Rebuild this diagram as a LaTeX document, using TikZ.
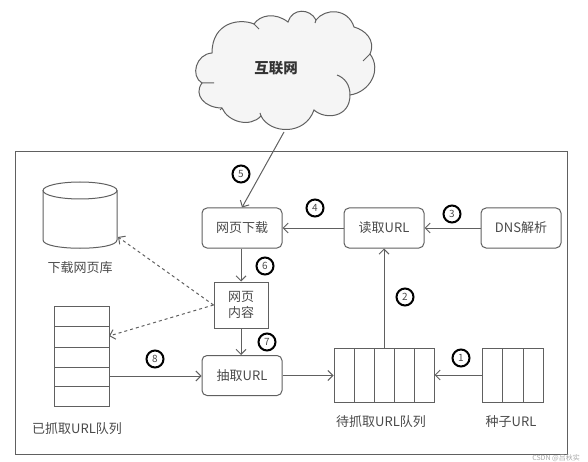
\documentclass[tikz,border=0pt]{standalone}
\usepackage{fontspec}
\setmainfont{Noto Sans CJK SC}
\usetikzlibrary{positioning, arrows.meta}
\definecolor{linegray}{HTML}{606060}
\definecolor{textgray}{HTML}{4A4A4A}

\begin{document}
\begin{tikzpicture}[
  x=1pt, y=-1pt,
  stepbox/.style={rectangle, rounded corners=5pt, draw=linegray, line width=1pt, minimum width=80pt, minimum height=40pt, inner sep=0pt, text=textgray, font=\fontsize{13}{15}\selectfont},
  pagebox/.style={rectangle, draw=linegray, line width=1pt, minimum width=54pt, minimum height=46pt, inner sep=0pt, align=center, text=textgray, font=\fontsize{13}{15.5}\selectfont},
  queuebox/.style={rectangle, draw=linegray, line width=1pt, inner sep=0pt},
  textnode/.style={text=textgray, inner sep=0pt, font=\fontsize{13}{15}\selectfont},
  numnode/.style={circle, draw=black, line width=2pt, minimum size=17pt, inner sep=0pt, text=textgray, font=\fontsize{10}{10}\selectfont},
  conn/.style={->, draw=linegray, line width=1pt},
  dashconn/.style={conn, dashed},
  >={Straight Barb[length=5pt, width=10pt]}
]
  \useasboundingbox (0,0) rectangle (588,462);

  % Wolke
  \draw[draw=linegray, line width=1pt, fill=black!4]
    (212,53) .. controls (196,54) and (190,76) .. (202,83)
    .. controls (193,95) and (205,108) .. (222,108)
    .. controls (228,122) and (250,128) .. (261,116)
    .. controls (270,134) and (305,136) .. (314,110)
    .. controls (325,120) and (350,118) .. (350,95)
    .. controls (370,92) and (382,70) .. (370,54)
    .. controls (376,40) and (365,30) .. (354,27)
    .. controls (348,8) and (325,8) .. (316,20)
    .. controls (310,8) and (292,8) .. (288,22)
    .. controls (275,12) and (260,15) .. (254,24)
    .. controls (240,18) and (212,22) .. (212,53) -- cycle;
  \draw[draw=linegray, line width=1pt]
    (202,83) -- (214,83)
    (222,108) -- (220,110)
    (254,24) -- (259,29)
    (261,116) -- (260,113)
    (316,20) -- (315,23)
    (370,54) -- (363,61)
    (350,95) .. controls (350,85) and (345,78) .. (337,75);
  \node[inner sep=0pt, text=black!80, font=\fontsize{14.5}{15}\selectfont\bfseries] (net) at (276,68) {互联网};
  \coordinate (netfoot) at (284,132);

  % Rahmen
  \draw[draw=linegray, line width=1pt] (15,152) rectangle (567,454);

  % Schritte
  \node[stepbox] (down) at (242,228) {网页下载};
  \node[stepbox] (read) at (384,228) {读取URL};
  \node[stepbox] (dns) at (521,228) {DNS解析};
  \node[pagebox] (page) at (241,305) {网页\\内容};
  \node[stepbox] (extract) at (242,375.5) {抽取URL};

  % Webseiten-Speicher
  \draw[draw=linegray, line width=1pt] (43,190.5) -- (43,240) .. controls (43,251) and (117,251) .. (117,240) -- (117,190.5);
  \draw[draw=linegray, line width=1pt] (80,190.5) ellipse [x radius=37, y radius=8.5];
  \coordinate (storein) at (118,237);
  \node[textnode] (storelabel) at (80,268) {下载网页库};

  % Warteschlangen
  \node[queuebox, minimum width=55pt, minimum height=100pt] (done) at (81.5,356) {};
  \foreach \y in {326,347,367,386}
    \draw[draw=linegray, line width=1pt] (54,\y) -- (109,\y);
  \node[textnode] (donelabel) at (77,429) {已抓取URL队列};
  \coordinate (donein) at (109,336);
  \coordinate (doneout) at (109,376);

  \node[queuebox, minimum width=100pt, minimum height=54pt] (todo) at (384,375) {};
  \foreach \x in {354,374,394,414}
    \draw[draw=linegray, line width=1pt] (\x,348) -- (\x,402);
  \node[textnode] (todolabel) at (381,422) {待抓取URL队列};

  \node[queuebox, minimum width=61pt, minimum height=54pt] (seed) at (512.5,375) {};
  \foreach \x in {502,523}
    \draw[draw=linegray, line width=1pt] (\x,348) -- (\x,402);
  \node[textnode] (seedlabel) at (511,422) {种子URL};

  % Pfeile
  \draw[conn] (seed) -- (todo);
  \draw[conn] (todo) -- (read);
  \draw[conn] (dns) -- (read);
  \draw[conn] (read) -- (down);
  \draw[conn] (netfoot) -- (down.north);
  \draw[conn] (down.south -| page) -- (page);
  \draw[conn] (page) -- (extract.north -| page);
  \draw[conn] (doneout) -- (doneout -| extract.west);
  \draw[conn] (extract.east) -- (extract.east -| todo.west);
  \draw[dashconn] (page.west) -- (storein);
  \draw[dashconn] (page.west) -- (donein);

  % Nummern
  \node[numnode] (n1) at (461,358) {1};
  \node[numnode] (n2) at (405,297) {2};
  \node[numnode] (n3) at (452,214) {3};
  \node[numnode] (n4) at (315,208) {4};
  \node[numnode] (n5) at (241,174) {5};
  \node[numnode] (n6) at (265,266) {6};
  \node[numnode] (n7) at (267,342) {7};
  \node[numnode] (n8) at (155,359) {8};

  \node[text=black!35, inner sep=0pt, font=\fontsize{7}{7}\selectfont] (mark) at (556,458) {CSDN @吕秋实};
\end{tikzpicture}
\end{document}
